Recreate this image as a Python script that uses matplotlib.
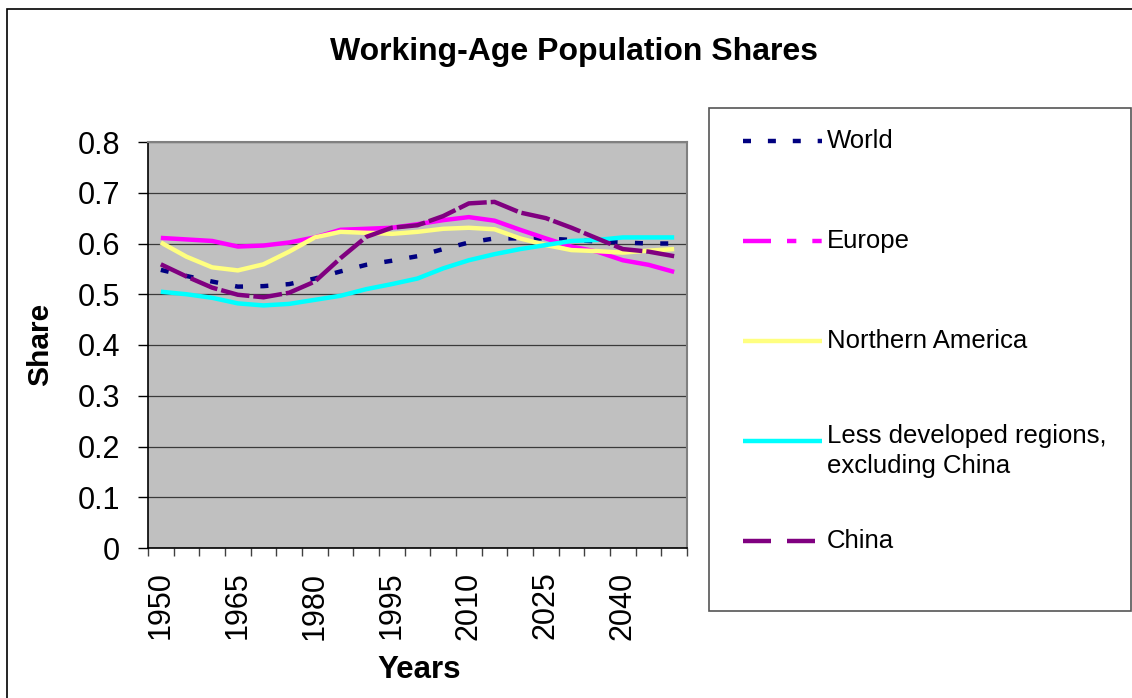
import matplotlib
matplotlib.use("Agg")
import matplotlib.pyplot as plt
from matplotlib.lines import Line2D
from matplotlib.patches import Rectangle

plt.rcParams['font.family'] = ['Liberation Sans', 'DejaVu Sans']

# data
years = list(range(1950, 2051, 5))
world = [0.548, 0.536, 0.525, 0.515, 0.516, 0.520, 0.531, 0.545, 0.558, 0.566, 0.575,
         0.589, 0.602, 0.610, 0.610, 0.610, 0.607, 0.604, 0.602, 0.600, 0.600]
europe = [0.611, 0.608, 0.605, 0.594, 0.596, 0.602, 0.612, 0.627, 0.629, 0.631, 0.638,
          0.646, 0.652, 0.645, 0.627, 0.610, 0.594, 0.584, 0.567, 0.558, 0.544]
n_america = [0.602, 0.574, 0.553, 0.547, 0.559, 0.584, 0.612, 0.623, 0.621, 0.619, 0.623,
             0.629, 0.631, 0.628, 0.610, 0.597, 0.587, 0.585, 0.582, 0.586, 0.589]
less_dev = [0.505, 0.500, 0.493, 0.482, 0.478, 0.481, 0.489, 0.497, 0.510, 0.520, 0.531,
            0.551, 0.567, 0.579, 0.589, 0.597, 0.605, 0.607, 0.612, 0.612, 0.612]
china = [0.559, 0.535, 0.513, 0.499, 0.494, 0.503, 0.525, 0.571, 0.613, 0.631, 0.636,
         0.654, 0.679, 0.682, 0.661, 0.650, 0.631, 0.610, 0.589, 0.584, 0.575]

labels = ['World', 'Europe', 'Northern America',
          'Less developed regions,\nexcluding China', 'China']
yticks = [0, 0.1, 0.2, 0.3, 0.4, 0.5, 0.6, 0.7, 0.8]
ytick_labels = ['0', '0.1', '0.2', '0.3', '0.4', '0.5', '0.6', '0.7', '0.8']
xlabel_years = years[0:19:3]

W, H = 1132, 698
def fx(px):
    return px / W
def fy(py):
    return 1 - py / H

fig = plt.figure(figsize=(11.32, 6.98), dpi=100)
fig.patch.set_facecolor('white')
fig.add_artist(Rectangle((fx(7), fy(1000)), 2, fy(9) - fy(1000), transform=fig.transFigure,
                         fill=False, edgecolor='black', lw=1.2))

ax = fig.add_axes([fx(148), fy(548), fx(687) - fx(148), fy(142) - fy(548)])
ax.set_facecolor('#c0c0c0')

x = list(range(len(years)))
lw = 3.2
styles = [
    dict(color='#000080', dashes=(1.8, 3.9)),
    dict(color='#ff00ff'),
    dict(color='#ffff80'),
    dict(color='#00ffff'),
    dict(color='#800080', dashes=(6.5, 0.9)),
]
series = [world, europe, n_america, less_dev, china]
for vals, st in zip(series, styles):
    ax.plot(x, vals, lw=lw, solid_capstyle='butt', dash_capstyle='butt', zorder=3, **st)

ax.set_xlim(-0.5, len(years) - 0.5)
ax.set_ylim(0, 0.8)
ax.set_yticks(yticks)
ax.set_yticklabels(ytick_labels)
ax.yaxis.grid(True, color='#3a3a3a', lw=0.9)
ax.set_axisbelow(True)

ax.set_xticks([i - 0.5 for i in range(len(years) + 1)])
ax.set_xticklabels([])
ax.set_xticks([years.index(y) for y in xlabel_years], minor=True)
ax.set_xticklabels([str(y) for y in xlabel_years], minor=True, rotation=90)
ax.tick_params(axis='x', which='major', length=6, width=1, color='#404040')
ax.tick_params(axis='x', which='minor', length=0, pad=17, labelsize=22)
ax.tick_params(axis='y', length=7, width=1, color='black', pad=13, labelsize=22)

for s in ['top', 'right']:
    ax.spines[s].set_color('#808080')
    ax.spines[s].set_linewidth(1.5)
for s in ['left', 'bottom']:
    ax.spines[s].set_color('black')
    ax.spines[s].set_linewidth(1.2)

fig.text(fx(574), fy(52), 'Working-Age Population Shares', ha='center', va='center',
         fontsize=23, fontweight='bold')
fig.text(fx(419), fy(670), 'Years', ha='center', va='center', fontsize=22.5, fontweight='bold')
fig.text(fx(40), fy(344), 'Share', ha='center', va='center', rotation=90,
         fontsize=21.5, fontweight='bold')

# legend drawn by hand so the two-line label sits like the original
fig.add_artist(Rectangle((fx(709), fy(611)), fx(1131) - fx(709), fy(108) - fy(611),
                         transform=fig.transFigure, fill=False, edgecolor='#555555', lw=1.2))
leg_y = [141, 241, 341, 441, 541]
leg_dashes = [(1.8, 3.8), (6.3, 3.6, 2.1, 3.6, 2.1, 3.6), None, None, (6.3, 3.6)]
for lab, st, ly, d in zip(labels, styles, leg_y, leg_dashes):
    kw = dict(color=st['color'], lw=lw, solid_capstyle='butt', dash_capstyle='butt')
    if d is not None:
        kw['dashes'] = d
    fig.add_artist(Line2D([fx(743), fx(822)], [fy(ly), fy(ly)], transform=fig.transFigure, **kw))
    if '\n' in lab:
        fig.text(fx(827), fy(ly - 17), lab, ha='left', va='top', fontsize=18.5, linespacing=1.3)
    else:
        fig.text(fx(827), fy(ly), lab, ha='left', va='center', fontsize=18.5)

fig.savefig('out.png', dpi=100)
